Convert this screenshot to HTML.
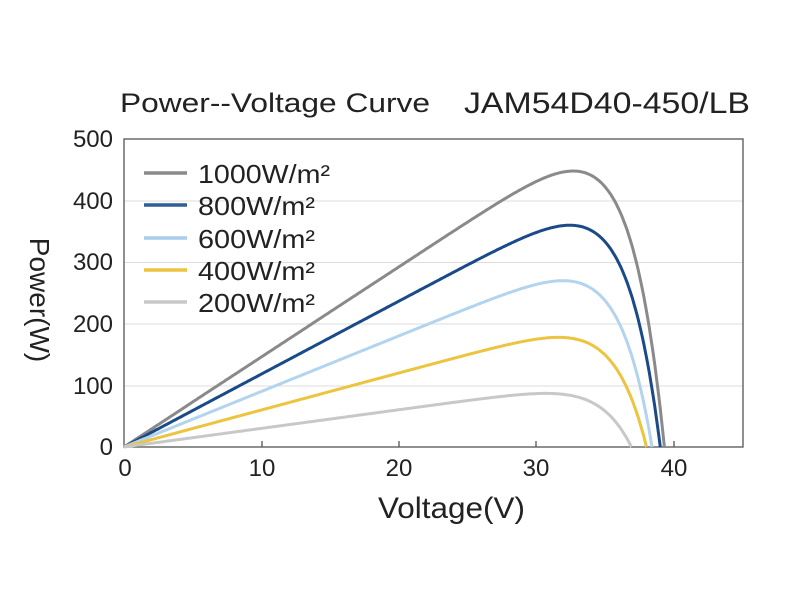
<!DOCTYPE html>
<html><head><meta charset="utf-8"><style>body{margin:0;background:#fff}svg{display:block}text{font-family:"Liberation Sans",sans-serif;fill:#222}</style></head>
<body>
<svg id="s" width="800" height="600" xmlns="http://www.w3.org/2000/svg">
<text x="120" y="112" font-size="27" textLength="310" lengthAdjust="spacingAndGlyphs">Power--Voltage Curve</text>
<text x="464" y="113" font-size="30" textLength="286" lengthAdjust="spacingAndGlyphs">JAM54D40-450/LB</text>
<g stroke="#ddd" stroke-width="1">
<line x1="124" y1="201" x2="743" y2="201"/><line x1="124" y1="262.5" x2="743" y2="262.5"/><line x1="124" y1="324" x2="743" y2="324"/><line x1="124" y1="386" x2="743" y2="386"/>
</g>
<rect x="124" y="139" width="619" height="308" fill="none" stroke="#555" stroke-width="1.3"/>
<g stroke="#555" stroke-width="1.3"><line x1="262" y1="447" x2="262" y2="441"/><line x1="399" y1="447" x2="399" y2="441"/><line x1="536" y1="447" x2="536" y2="441"/><line x1="674" y1="447" x2="674" y2="441"/></g>
<g font-size="24" text-anchor="end"><text x="113" y="147">500</text><text x="113" y="209">400</text><text x="113" y="270">300</text><text x="113" y="332">200</text><text x="113" y="394">100</text><text x="113" y="455">0</text></g>
<g font-size="24" text-anchor="middle"><text x="125" y="476">0</text><text x="262" y="476">10</text><text x="399" y="476">20</text><text x="536" y="476">30</text><text x="674" y="476">40</text></g>
<text x="378" y="518" font-size="30" textLength="147" lengthAdjust="spacingAndGlyphs">Voltage(V)</text>
<text transform="translate(30,300) rotate(90)" font-size="28" text-anchor="middle">Power(W)</text>
<g id="curves" fill="none" stroke-width="3"></g>
<g stroke-width="3.5">
<line x1="144" y1="173" x2="187" y2="173" stroke="#8a8a8c"/>
<line x1="144" y1="205" x2="187" y2="205" stroke="#2f5f96"/>
<line x1="144" y1="238" x2="187" y2="238" stroke="#a9cdec"/>
<line x1="144" y1="270" x2="187" y2="270" stroke="#ecc440"/>
<line x1="144" y1="302" x2="187" y2="302" stroke="#c8c8c8"/>
</g>
<g font-size="26"><text x="198" y="183" textLength="132" lengthAdjust="spacingAndGlyphs">1000W/m²</text><text x="198" y="215" textLength="117" lengthAdjust="spacingAndGlyphs">800W/m²</text><text x="198" y="248" textLength="117" lengthAdjust="spacingAndGlyphs">600W/m²</text><text x="198" y="280" textLength="117" lengthAdjust="spacingAndGlyphs">400W/m²</text><text x="198" y="312" textLength="117" lengthAdjust="spacingAndGlyphs">200W/m²</text></g>
</svg>
<script>
var data=[["#8a8a8c",39.3,448],["#1a4a88",39.0,360],["#b3d4ee",38.4,270],["#ecc440",38.0,178],["#c8c8c8",36.9,87]];
var g=document.getElementById("curves"),n=15;
data.forEach(function(d){var voc=d[1],mx=0,pts=[],V;
for(V=0;V<=voc;V+=0.1){var p=V*(1-Math.pow(V/voc,n));pts.push([V,p]);if(p>mx)mx=p;}
pts.push([voc,0]);
var s=d[2]/mx,str=pts.map(function(q,i){return (i?"L":"M")+(124+q[0]*13.75).toFixed(1)+","+(447-q[1]*s*0.616).toFixed(1)}).join("");
var e=document.createElementNS("http://www.w3.org/2000/svg","path");e.setAttribute("d",str);e.setAttribute("stroke",d[0]);g.appendChild(e);});
</script>
</body></html>
